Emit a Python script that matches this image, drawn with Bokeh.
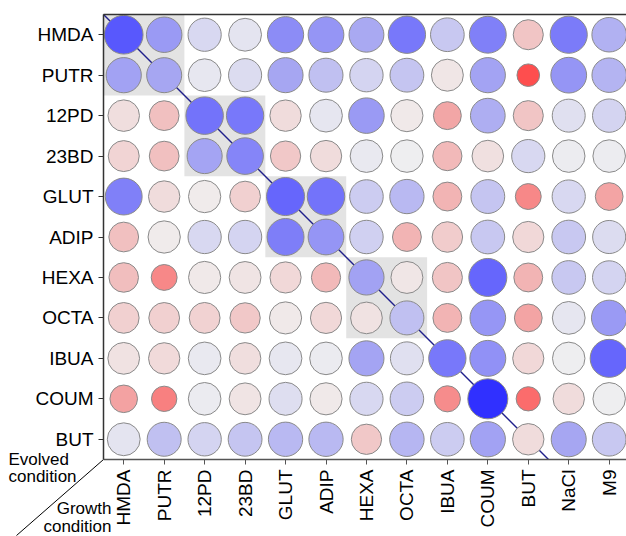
import numpy as np
from bokeh.plotting import figure
from bokeh.models import (ColumnDataSource, LinearColorMapper, FixedTicker, Range1d,
                          LinearAxis, LinearInterpolator)
from bokeh.transform import transform
from bokeh.core.properties import value
from bokeh.embed import file_html
from bokeh.resources import INLINE
from math import pi

# ---------------- data ----------------
evolved = ["HMDA", "PUTR", "12PD", "23BD", "GLUT", "ADIP", "HEXA", "OCTA", "IBUA", "COUM", "BUT"]
growth = ["HMDA", "PUTR", "12PD", "23BD", "GLUT", "ADIP", "HEXA", "OCTA", "IBUA", "COUM", "BUT", "NaCl", "M9"]

# relative fitness score (blue = higher, red = lower); rows = evolved, cols = growth
HMDA = [0.85, 0.50, 0.12, 0.06, 0.58, 0.53, 0.40, 0.70, 0.20, 0.65, -0.22, 0.68, 0.35]
PUTR = [0.45, 0.42, 0.04, 0.10, 0.42, 0.25, 0.14, 0.22, -0.05, 0.44, -0.90, 0.53, 0.33]
PD12 = [-0.09, -0.25, 0.72, 0.70, -0.10, 0.05, 0.50, -0.03, -0.42, 0.37, -0.22, 0.08, 0.14]
BD23 = [-0.14, -0.25, 0.43, 0.62, -0.20, -0.10, 0.03, 0.00, -0.30, -0.08, 0.12, 0.01, 0.01]
GLUT = [0.65, -0.10, -0.02, -0.16, 0.78, 0.72, 0.18, 0.30, -0.33, 0.22, -0.60, 0.12, -0.43]
ADIP = [-0.25, -0.02, 0.12, 0.14, 0.66, 0.53, 0.16, -0.33, -0.18, 0.20, -0.12, 0.20, 0.10]
HEXA = [-0.27, -0.60, -0.03, -0.06, -0.12, -0.30, 0.45, -0.05, -0.22, 0.78, -0.33, 0.20, 0.14]
OCTA = [-0.16, -0.16, -0.15, -0.20, -0.03, -0.12, -0.07, 0.25, -0.33, 0.52, -0.43, 0.05, 0.50]
IBUA = [-0.07, -0.11, 0.03, -0.09, 0.04, 0.02, 0.43, 0.08, 0.70, 0.55, -0.12, 0.00, 0.78]
COUM = [-0.45, -0.65, 0.02, -0.06, 0.09, -0.03, 0.12, 0.18, -0.58, 1.00, -0.75, -0.10, 0.00]
BUT = [0.06, 0.25, 0.14, 0.22, 0.30, 0.30, -0.20, 0.32, 0.18, 0.45, -0.10, 0.42, 0.20]
matrix = [HMDA, PUTR, PD12, BD23, GLUT, ADIP, HEXA, OCTA, IBUA, COUM, BUT]

groups = [("HMDA", "PUTR"), ("12PD", "23BD"), ("GLUT", "ADIP"), ("HEXA", "OCTA")]

# ---------------- palette (style) ----------------
absv = [0, 0.06, 0.12, 0.2, 0.3, 0.4, 0.5, 0.6, 0.7, 0.75, 0.85, 0.9, 1.0]
other = [238, 228, 216, 200, 185, 169, 154, 136, 120, 108, 88, 78, 48]
mainv = [0, 0.4, 0.6, 0.8, 1.0]
mainc = [240, 242, 247, 252, 255]
palette = []
for t in np.linspace(-1, 1, 201):
    a = abs(t)
    o = int(round(np.interp(a, absv, other)))
    m = int(round(np.interp(a, mainv, mainc)))
    if t < 0:
        palette.append("#%02x%02x%02x" % (m, o, o))
    else:
        palette.append("#%02x%02x%02x" % (o, o, m))
mapper = LinearColorMapper(palette=palette, low=-1, high=1)
size_map = LinearInterpolator(x=[-1, 0, 0.5, 1], y=[21.5, 32.5, 35.5, 40.0])

xs, ys, vs = [], [], []
for i, row in enumerate(matrix):
    for j, v in enumerate(row):
        xs.append(j)
        ys.append(i)
        vs.append(v)
src = ColumnDataSource(dict(x=xs, y=ys, v=vs))

W, H = 626, 536
n = len(evolved)
left_px, top_px, cell = 103, 14, 445 / n


def dx(px):
    return -0.5 + (px - left_px) / cell


def dy(py):
    return -0.5 + (py - top_px) / cell


p = figure(width=W, height=H, output_backend="svg", toolbar_location=None,
           x_range=Range1d(dx(0), dx(W)), y_range=Range1d(dy(H), dy(0)),
           min_border_left=0, min_border_right=0, min_border_top=0, min_border_bottom=0,
           x_axis_location=None, y_axis_location=None)
p.outline_line_color = None
p.grid.visible = False
p.background_fill_color = "white"
p.border_fill_color = "white"

# grey boxes around evolved/growth pairs
gl, gr, gt, gb = [], [], [], []
for a, b in groups:
    i0, i1 = evolved.index(a), evolved.index(b)
    j0, j1 = growth.index(a), growth.index(b)
    gl.append(j0 - 0.5); gr.append(j1 + 0.5); gt.append(i0 - 0.5); gb.append(i1 + 0.5)
p.quad(left=gl, right=gr, top=gt, bottom=gb, fill_color="#e3e3e3", line_color=None)

# diagonal
p.line(x=[-0.5, n - 0.5], y=[-0.5, n - 0.5], line_color="#20208c", line_width=1.4)

p.scatter(x="x", y="y", source=src, size=transform("v", size_map),
          fill_color={"field": "v", "transform": mapper},
          line_color="#8a8a8a", line_width=1)

font = "Liberation Sans"
xaxis = LinearAxis(fixed_location=n - 0.5, bounds=(-0.5, dx(W)),
                   ticker=FixedTicker(ticks=list(range(len(growth)))),
                   major_label_overrides={j: g for j, g in enumerate(growth)},
                   major_label_orientation=pi / 2)
yaxis = LinearAxis(fixed_location=-0.5, bounds=(-0.5, n - 0.5),
                   ticker=FixedTicker(ticks=list(range(n))),
                   major_label_overrides={i: e for i, e in enumerate(evolved)})
for ax in (xaxis, yaxis):
    ax.major_label_text_font = font
    ax.major_label_text_font_size = "19px"
    ax.major_label_text_color = "black"
    ax.minor_tick_line_color = None
    ax.major_tick_in = 0
    ax.major_tick_out = 5
    ax.major_label_standoff = 5
yaxis.axis_line_color = "#333333"
yaxis.axis_line_width = 1.5
yaxis.major_tick_line_color = "#333333"
xaxis.axis_line_color = "#555555"
xaxis.axis_line_width = 1.5
xaxis.major_tick_line_color = "#555555"
p.add_layout(xaxis, "below")
p.add_layout(yaxis, "left")

topaxis = LinearAxis(fixed_location=-0.5, bounds=(-0.5, dx(W)), ticker=FixedTicker(ticks=[]),
                     major_label_text_font_size="0px", minor_tick_line_color=None,
                     major_tick_line_color=None, axis_line_color="#333333", axis_line_width=1.5)
p.add_layout(topaxis, "above")

# corner annotation
p.text(x=[dx(8), dx(8)], y=[dy(459), dy(476)], text=["Evolved", "condition"],
       text_font=value(font), text_font_size="17px", text_align="left",
       text_baseline="alphabetic", text_color="black")
p.text(x=[dx(111), dx(111)], y=[dy(508), dy(526)], text=["Growth", "condition"],
       text_font=value(font), text_font_size="17px", text_align="right",
       text_baseline="alphabetic", text_color="black")
p.line(x=[-0.5, dx(16)], y=[n - 0.5, dy(535)], line_color="black", line_width=1)

open("out.html", "w").write(file_html(p, INLINE))
